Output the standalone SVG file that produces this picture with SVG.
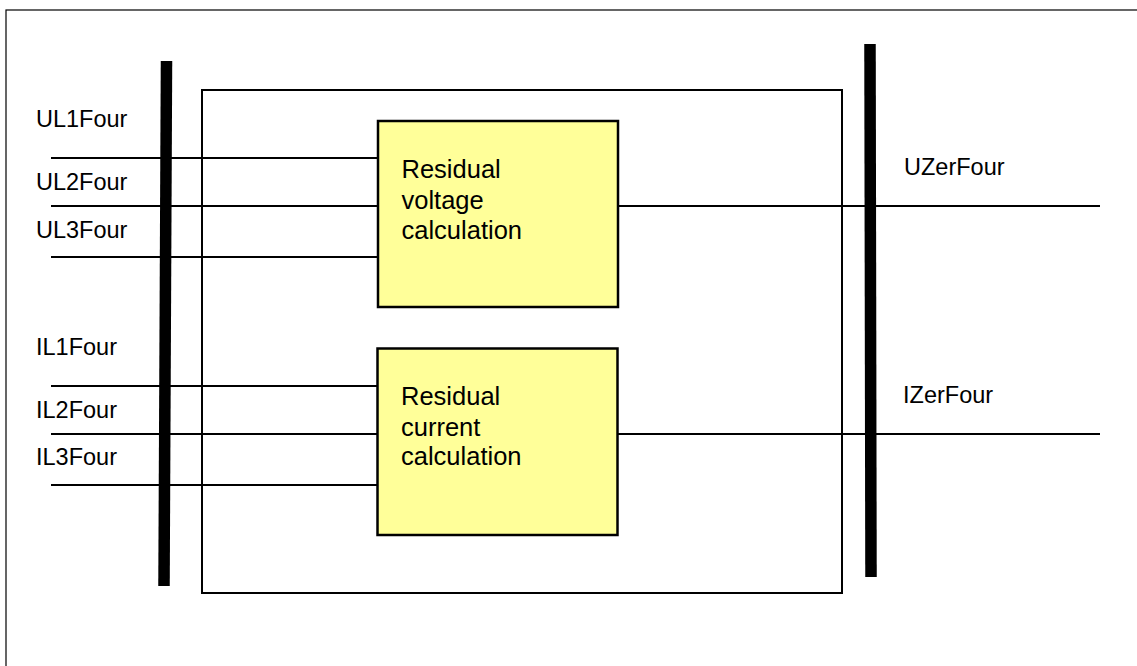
<svg xmlns="http://www.w3.org/2000/svg" width="1137" height="666" viewBox="0 0 1137 666">
<style>
.lbl{font-family:"Liberation Sans",Arial,sans-serif;font-size:23.5px;fill:#000}
.btxt{font-family:"Liberation Sans",Arial,sans-serif;font-size:25.5px;fill:#000}
.wire{stroke:#000;stroke-width:2;fill:none}
.bar{stroke:#000;stroke-width:11.5;fill:none}
.blk{fill:#FFFF99;stroke:#000;stroke-width:2.5}
</style>
<rect x="0" y="0" width="1137" height="666" fill="#fff"/>
<g id="frame">
<rect x="6" y="10" width="1140" height="700" fill="none" stroke="#000" stroke-width="1.2"/>
</g>
<g id="function-block">
<rect x="202" y="90" width="640" height="503" fill="none" stroke="#000" stroke-width="2"/>
</g>
<g id="connectors">
<line class="wire" x1="51" y1="158" x2="378" y2="158"/>
<line class="wire" x1="51" y1="206" x2="378" y2="206"/>
<line class="wire" x1="51" y1="257" x2="378" y2="257"/>
<line class="wire" x1="51" y1="386" x2="377" y2="386"/>
<line class="wire" x1="51" y1="434" x2="377" y2="434"/>
<line class="wire" x1="51" y1="485" x2="377" y2="485"/>
<line class="wire" x1="618" y1="206" x2="1100" y2="206"/>
<line class="wire" x1="618" y1="434" x2="1100" y2="434"/>
</g>
<g id="input-bar">
<line class="bar" x1="166.5" y1="61" x2="164" y2="586"/>
</g>
<g id="output-bar">
<line class="bar" x1="870" y1="44" x2="871" y2="577"/>
</g>
<g id="residual-voltage">
<rect class="blk" x="378" y="121" width="240" height="186"/>
<text class="btxt" x="401.5" y="178">Residual</text>
<text class="btxt" x="401.5" y="209">voltage</text>
<text class="btxt" x="401.5" y="239">calculation</text>
</g>
<g id="residual-current">
<rect class="blk" x="377.5" y="348.5" width="240" height="186.5"/>
<text class="btxt" x="401" y="405">Residual</text>
<text class="btxt" x="401" y="435.5">current</text>
<text class="btxt" x="401" y="465">calculation</text>
</g>
<g id="input-labels">
<text class="lbl" x="36" y="127">UL1Four</text>
<text class="lbl" x="36" y="190">UL2Four</text>
<text class="lbl" x="36" y="238">UL3Four</text>
<text class="lbl" x="36" y="355">IL1Four</text>
<text class="lbl" x="36" y="418">IL2Four</text>
<text class="lbl" x="36" y="465">IL3Four</text>
</g>
<g id="output-labels">
<text class="lbl" x="904" y="175">UZerFour</text>
<text class="lbl" x="903" y="403">IZerFour</text>
</g>
</svg>
